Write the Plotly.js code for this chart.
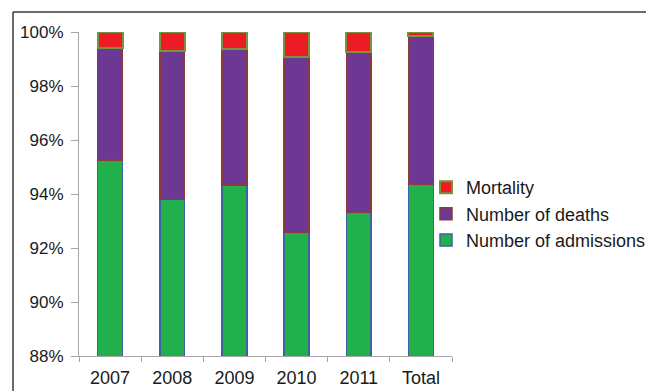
<!DOCTYPE html>
<html>
<head>
<meta charset="utf-8">
<script src="https://cdn.plot.ly/plotly-3.0.1.min.js"></script>
<style>
html,body{margin:0;padding:0;background:#fff;overflow:hidden;}
#wrap{width:646px;height:391px;overflow:hidden;position:relative;}
#chart{width:720px;height:391px;}
</style>
</head>
<body>
<div id="wrap"><div id="chart"></div></div>
<script>
const categories = ["2007", "2008", "2009", "2010", "2011", "Total"];
const admissions = [95.26, 93.80, 94.33, 92.58, 93.33, 94.36];
const deaths = [4.14, 5.50, 5.05, 6.51, 5.94, 5.49];
const mortality = [0.60, 0.70, 0.62, 0.91, 0.73, 0.15];
const yTicks = [88, 90, 92, 94, 96, 98, 100];
const yTickText = yTicks.map(v => v + '%');

const fontFam = 'Liberation Sans, Arial, sans-serif';
const traces = [
  {type: 'bar', name: 'Number of admissions', x: categories, y: admissions, width: 0.4,
   marker: {color: '#21b04c', line: {color: '#3c62a0', width: 1.5}}},
  {type: 'bar', name: 'Number of deaths', x: categories, y: deaths, width: 0.4,
   marker: {color: '#6d3893', line: {color: '#8e3a3a', width: 1.5}}},
  {type: 'bar', name: 'Mortality', x: categories, y: mortality, width: 0.4,
   marker: {color: '#ed1c24', line: {color: '#77933c', width: 2}}}
];

const W = 720;
const layout = {
  width: W, height: 391,
  margin: {l: 79, r: W - 452, t: 32, b: 35, pad: 0},
  paper_bgcolor: '#ffffff', plot_bgcolor: '#ffffff',
  barmode: 'stack',
  showlegend: true,
  font: {family: fontFam, size: 18, color: '#1a1a1a'},
  xaxis: {
    type: 'category', range: [-0.5, 5.5],
    showline: true, linecolor: '#a6a6a6', linewidth: 1,
    ticks: 'outside', tickson: 'boundaries', ticklen: 5, tickcolor: '#a6a6a6',
    ticklabelstandoff: 5,
    showgrid: false, zeroline: false,
    tickfont: {family: fontFam, size: 18, color: '#1a1a1a'}
  },
  yaxis: {
    range: [88, 100], tickmode: 'array', tickvals: yTicks, ticktext: yTickText,
    showline: true, linecolor: '#a6a6a6', linewidth: 1,
    ticks: 'outside', ticklen: 7, tickcolor: '#a6a6a6',
    ticklabelstandoff: 4,
    showgrid: false, zeroline: false,
    tickfont: {family: fontFam, size: 17, color: '#1a1a1a'}
  },
  legend: {
    x: 0.9303, xanchor: 'left', xref: 'paper',
    y: 0.438, yanchor: 'middle',
    traceorder: 'reversed',
    bgcolor: 'rgba(0,0,0,0)', borderwidth: 0,
    font: {family: fontFam, size: 18, color: '#1a1a1a'},
    itemwidth: 30
  },
  shapes: [
    {type: 'line', xref: 'paper', yref: 'paper', x0: -0.1769, x1: 1.8, y0: 1.0617, y1: 1.0617,
     line: {color: '#3a3a3a', width: 1.5}},
    {type: 'line', xref: 'paper', yref: 'paper', x0: -0.1769, x1: -0.1769, y0: 1.0617, y1: -0.2,
     line: {color: '#3a3a3a', width: 1.5}}
  ]
};

Plotly.newPlot('chart', traces, layout, {displayModeBar: false, staticPlot: true});
</script>
</body>
</html>
